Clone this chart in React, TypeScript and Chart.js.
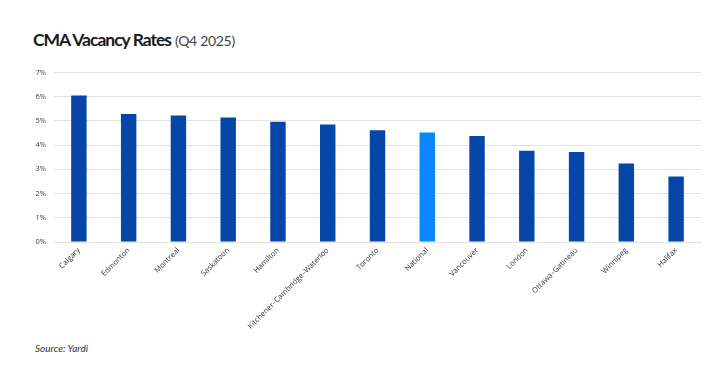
import React, { useEffect, useRef } from "react";
import { Chart, registerables } from "chart.js";

Chart.register(...registerables);

const categories = [
  "Calgary",
  "Edmonton",
  "Montreal",
  "Saskatoon",
  "Hamilton",
  "Kitchener–Cambridge–Waterloo",
  "Toronto",
  "National",
  "Vancouver",
  "London",
  "Ottawa–Gatineau",
  "Winnipeg",
  "Halifax",
];
const vacancyRates = [6.05, 5.29, 5.22, 5.14, 4.97, 4.85, 4.61, 4.52, 4.38, 3.77, 3.72, 3.24, 2.7];
const highlightCategory = "National";
const yTicks = [0, 1, 2, 3, 4, 5, 6, 7];

const DARK = "#0646A8";
const LIGHT = "#0A87FC";

export default function App() {
  const canvasRef = useRef<HTMLCanvasElement | null>(null);

  useEffect(() => {
    const canvas = canvasRef.current;
    if (!canvas) return;
    const chart = new Chart(canvas, {
      type: "bar",
      data: {
        labels: categories,
        datasets: [
          {
            data: vacancyRates,
            backgroundColor: categories.map((c) => (c === highlightCategory ? LIGHT : DARK)),
            borderWidth: 0,
            barPercentage: 0.62,
            categoryPercentage: 0.5,
          },
        ],
      },
      options: {
        animation: false,
        responsive: false,
        maintainAspectRatio: false,
        layout: { padding: { top: 10, right: 11, left: 0, bottom: 0 } },
        plugins: {
          legend: { display: false },
          tooltip: { enabled: false },
          title: { display: false },
        },
        scales: {
          x: {
            grid: { display: false, drawTicks: false },
            border: { display: true, color: "#e3e3e3", width: 1 },
            ticks: {
              autoSkip: false,
              maxRotation: 45,
              minRotation: 45,
              padding: 4,
              color: "#3a3a3a",
              font: { family: "'Open Sans', sans-serif", size: 7.5 },
            },
            afterFit: (scale: any) => {
              scale.height = 88;
            },
          },
          y: {
            min: 0,
            max: 7,
            afterBuildTicks: (scale: any) => {
              scale.ticks = yTicks.map((v) => ({ value: v }));
            },
            grid: { color: "#e3e3e3", lineWidth: 1, drawTicks: false },
            border: { display: false },
            ticks: {
              padding: 8,
              color: "#3a3a3a",
              font: { family: "'Open Sans', sans-serif", size: 7.5 },
              callback: (v: any) => `${v}%`,
            },
            afterFit: (scale: any) => {
              scale.width = 54;
            },
          },
        },
      },
    });
    return () => chart.destroy();
  }, []);

  return (
    <div
      style={{
        position: "absolute",
        left: 0,
        top: 0,
        width: 712,
        height: 369,
        background: "#fff",
        overflow: "hidden",
      }}
    >
      <div
        style={{
          position: "absolute",
          left: 33,
          top: 29,
          whiteSpace: "nowrap",
          fontFamily: "Lato, 'Open Sans', sans-serif",
          color: "#1a1a1a",
        }}
      >
        <span style={{ fontWeight: 700, fontSize: 17.5, letterSpacing: -1 }}>CMA Vacancy Rates</span>
        <span style={{ fontWeight: 400, fontSize: 14, color: "#444", marginLeft: 4, letterSpacing: -0.3 }}>
          (Q4 2025)
        </span>
      </div>
      <canvas
        ref={canvasRef}
        width={712}
        height={270}
        style={{ position: "absolute", left: 0, top: 60, width: 712, height: 270 }}
      />
      <div
        style={{
          position: "absolute",
          left: 35,
          top: 342,
          fontFamily: "Lato, 'Open Sans', sans-serif",
          fontStyle: "italic",
          fontSize: 10,
          color: "#333",
        }}
      >
        Source: Yardi
      </div>
    </div>
  );
}
